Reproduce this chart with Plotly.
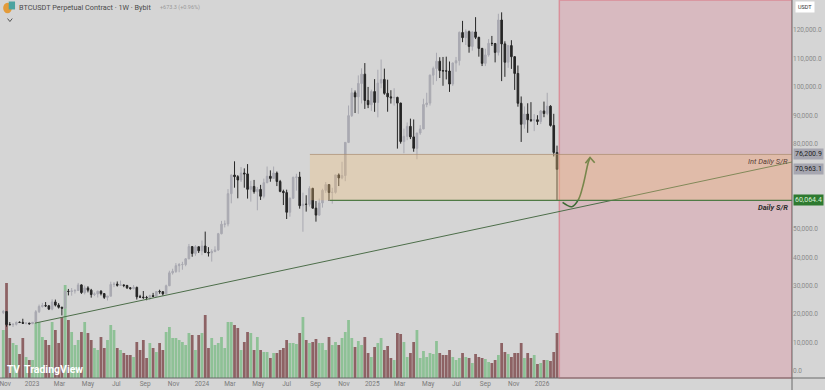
import plotly.graph_objects as go
import pandas as pd

# ---------------- data (weekly BTCUSDT, Bybit perpetual) ----------------
week_start = "2022-10-31"

open_ = [
    20627, 20905, 16330, 16280, 16430, 17110, 17100, 16780, 16840, 16620,
    17130, 20870, 22700, 23030, 22930, 21780, 24300, 23180, 22430, 22100,
    28000, 27990, 28170, 28330, 30300, 27590, 29230, 28440, 26920, 27110,
    28080, 27230, 25910, 26340, 30460, 30580, 30170, 30290, 30080, 29270,
    29040, 29420, 26090, 26000, 25870, 25830, 26530, 26250, 27970, 27920,
    27150, 29990, 34530, 35030, 37060, 37450, 37470, 39460, 43780, 41370,
    43720, 42280, 43970, 41730, 41580, 42030, 42590, 48300, 51660, 51730,
    62400, 68950, 68390, 67210, 69650, 69360, 63930, 64930, 63110, 63900,
    61480, 66270, 68530, 67770, 69650, 66680, 63210, 62770, 55850, 60800,
    68160, 68250, 58160, 58710, 58640, 64250, 57300, 54850, 59130, 63580,
    65600, 62820, 62860, 69000, 67940, 68770, 80440, 89850, 97900, 96450,
    101170, 104460, 95200, 93720, 98330, 94500, 101300, 102600, 97700, 96460,
    96120, 96270, 94270, 80730, 82570, 86080, 82380, 78350, 83750, 85170,
    93750, 94280, 104100, 106450, 109000, 105700, 105600, 105550, 100960, 108380,
    109200, 119100, 117300, 119400, 114200, 119300, 117400, 113500, 108250, 111200,
    115300, 115250, 112100, 123500, 115100, 108650, 114500, 110600, 104700, 94200,
    86800, 90400, 88400, 88200, 88400, 87800, 91500, 90600, 93200, 86400,
    76900,
]
high = [
    21480, 21050, 17190, 16810, 17420, 17430, 18390, 17070, 16960, 17180,
    21440, 23370, 23960, 24260, 23170, 25250, 25130, 23880, 22600, 28470,
    28870, 29190, 28800, 31000, 30480, 30040, 29820, 28900, 27650, 28250,
    28450, 27400, 26400, 31430, 31280, 31500, 31800, 30450, 30330, 29530,
    30240, 29680, 26800, 28140, 26440, 26880, 27480, 27300, 28600, 27980,
    30380, 35280, 35980, 37970, 37980, 38420, 39700, 44700, 43800, 44290,
    43820, 45900, 49050, 43580, 42850, 43880, 48590, 52820, 52980, 64000,
    69170, 73780, 68920, 71770, 71300, 72800, 66900, 67230, 64730, 65500,
    67700, 71950, 70600, 71950, 70200, 67250, 63800, 63800, 61050, 68350,
    69400, 70080, 62740, 61830, 65000, 64480, 59800, 60670, 64130, 66500,
    65620, 64480, 69000, 69520, 73620, 80500, 93430, 99590, 98700, 104000,
    106500, 108350, 99960, 99000, 102700, 106000, 109600, 106400, 102500, 98800,
    99500, 96500, 94400, 85300, 87450, 88800, 88500, 83600, 86500, 95800,
    97900, 104300, 107100, 111980, 110400, 110500, 110600, 108900, 108500, 110500,
    119500, 123200, 120200, 119800, 119500, 124500, 117600, 113700, 113400, 116800,
    117900, 115400, 125700, 126200, 116000, 114000, 116400, 110800, 107500, 96600,
    93100, 94200, 94600, 90400, 90000, 91800, 94800, 97900, 93500, 90500,
    79300,
]
low = [
    20030, 15590, 16240, 15480, 16000, 16870, 16530, 16400, 16330, 16610,
    17100, 20400, 22300, 22500, 21450, 21350, 22720, 21970, 19550, 21900,
    26600, 26510, 27260, 28170, 27130, 26940, 27670, 25810, 26360, 25870,
    26600, 25350, 24800, 26260, 29500, 29700, 29950, 29500, 28860, 28570,
    28700, 25160, 25800, 25330, 24900, 24930, 26010, 25990, 27160, 26530,
    27110, 29900, 33920, 34520, 34750, 35630, 36860, 39370, 40200, 40550,
    41520, 40750, 41500, 40280, 38500, 41800, 42260, 48100, 50520, 50900,
    59000, 64500, 60770, 66500, 64500, 60660, 59600, 62400, 56550, 60190,
    60750, 66050, 66600, 67600, 65070, 62900, 58400, 53480, 54300, 60630,
    63450, 57120, 49000, 56080, 57860, 57200, 52550, 54590, 57490, 62680,
    59830, 58900, 62440, 65080, 67470, 66800, 80200, 89380, 90770, 90500,
    94150, 92230, 92500, 91530, 91200, 89250, 99500, 97200, 91230, 94100,
    93380, 78250, 80000, 76600, 81200, 81600, 77150, 74500, 83100, 85100,
    92800, 93400, 100700, 102000, 103100, 100370, 102600, 98200, 100300, 105300,
    107500, 115700, 114700, 112000, 112700, 116800, 110600, 107300, 107300, 110600,
    114400, 108600, 111000, 102000, 103500, 106700, 106300, 98900, 93000, 80600,
    85300, 83800, 87600, 84400, 86600, 86900, 89300, 90000, 86000, 75500,
    60064.4,
]
close = [
    20905, 16330, 16280, 16430, 17110, 17100, 16780, 16840, 16620, 17130,
    20870, 22700, 23030, 22930, 21780, 24300, 23180, 22430, 22100, 28000,
    27990, 28170, 28330, 30300, 27590, 29230, 28440, 26920, 27110, 28080,
    27230, 25910, 26340, 30460, 30580, 30170, 30290, 30080, 29270, 29040,
    29420, 26090, 26000, 25870, 25830, 26530, 26250, 27970, 27920, 27150,
    29990, 34530, 35030, 37060, 37450, 37470, 39460, 43780, 41370, 43720,
    42280, 43970, 41730, 41580, 42030, 42590, 48300, 51660, 51730, 62400,
    68950, 68390, 67210, 69650, 69360, 63930, 64930, 63110, 63900, 61480,
    66270, 68530, 67770, 69650, 66680, 63210, 62770, 55850, 60800, 68160,
    68250, 58160, 58710, 58640, 64250, 57300, 54850, 59130, 63580, 65600,
    62820, 62860, 69000, 67940, 68770, 80440, 89850, 97900, 96450, 101170,
    104460, 95200, 93720, 98330, 94500, 101300, 102600, 97700, 96460, 96120,
    96270, 94270, 80730, 82570, 86080, 82380, 78350, 83750, 85170, 93750,
    94280, 104100, 106450, 109000, 105700, 105600, 105550, 100960, 108380, 109200,
    119100, 117300, 119400, 114200, 119300, 117400, 113500, 108250, 111200, 115300,
    115250, 112100, 123500, 115100, 108650, 114500, 110600, 104700, 94200, 86800,
    90400, 88400, 88200, 88400, 87800, 91500, 90600, 93200, 86400, 76900,
    70963.1,
]
volume = [
    48, 95, 40, 35, 33, 24, 40, 21, 18, 18,
    55, 56, 41, 38, 33, 56, 48, 35, 61, 93,
    58, 46, 33, 38, 46, 56, 45, 38, 30, 28,
    41, 30, 38, 53, 48, 30, 28, 25, 23, 23,
    21, 36, 28, 38, 20, 35, 30, 26, 35, 28,
    46, 51, 40, 40, 38, 36, 33, 45, 43, 28,
    43, 45, 63, 30, 40, 33, 35, 41, 30, 56,
    56, 53, 50, 28, 36, 46, 45, 28, 41, 28,
    26, 26, 20, 25, 25, 28, 30, 38, 35, 35,
    34, 45, 61, 38, 35, 36, 39, 35, 35, 28,
    41, 33, 36, 33, 40, 46, 58, 40, 31, 37,
    33, 41, 25, 21, 31, 35, 40, 28, 32, 20,
    18, 45, 44, 36, 21, 25, 36, 48, 20, 27,
    21, 25, 24, 37, 25, 23, 23, 28, 21, 18,
    20, 25, 21, 20, 15, 24, 21, 20, 19, 16,
    15, 18, 23, 35, 26, 24, 21, 25, 25, 35,
    20, 25, 20, 23, 14, 15, 18, 18, 17, 26,
    45,
]

# key levels / drawings (price coordinates)
int_sr_level = 76200.9
daily_sr_level = 60064.4
last_price = 70963.1
box_start = "2024-08-20"
daily_sr_start = "2024-10-02"
zone_start = "2026-02-07"
axis_end = "2027-06-22"
axis_start = "2022-10-24"

trend_dates = ["2023-01-07", axis_end]
trend_prices = [16850, 73540]

arrow_dates = ["2026-02-14", "2026-03-06", "2026-03-20", "2026-03-31", "2026-04-10", "2026-04-14"]
arrow_prices = [59300, 57800, 60300, 66000, 73300, 75000]
head_dates = ["2026-04-04", "2026-04-14", "2026-04-24"]
head_prices = [73100, 75100, 73300]

price_ticks = [0, 10000, 20000, 30000, 40000, 50000, 80000, 90000, 100000, 110000, 120000]
price_tick_text = ["0.0", "10,000.0", "20,000.0", "30,000.0", "40,000.0", "50,000.0",
                   "80,000.0", "90,000.0", "100,000.0", "110,000.0", "120,000.0"]

time_ticks = ["2022-11-04", "2023-01-01", "2023-03-01", "2023-05-01", "2023-07-01", "2023-09-01",
              "2023-11-01", "2024-01-01", "2024-03-01", "2024-05-01", "2024-07-01", "2024-09-01",
              "2024-11-01", "2025-01-01", "2025-03-01", "2025-05-01", "2025-07-01", "2025-09-01",
              "2025-11-01", "2026-01-01"]
time_tick_text = ["Nov", "2023", "Mar", "May", "Jul", "Sep", "Nov", "2024", "Mar", "May", "Jul", "Sep",
                  "Nov", "2025", "Mar", "May", "Jul", "Sep", "Nov", "2026"]

dates = pd.date_range(week_start, periods=len(close), freq="7D")

# ---------------- styling ----------------
BG = "#d5d5d5"
UP = "#a9a9b1"
DOWN = "#262626"
VOL_UP = "#8ec196"
VOL_DOWN = "#8d6264"
FONT = "Roboto"

vol_colors = [VOL_UP if c >= o else VOL_DOWN for o, c in zip(open_, close)]

fig = go.Figure()

fig.add_trace(go.Bar(
    x=dates, y=volume, marker=dict(color=vol_colors, line=dict(width=0)),
    yaxis="y", hoverinfo="skip", showlegend=False,
))

fig.add_trace(go.Candlestick(
    x=dates, open=open_, high=high, low=low, close=close, yaxis="y2",
    increasing=dict(line=dict(color=UP, width=1), fillcolor=UP),
    decreasing=dict(line=dict(color=DOWN, width=1), fillcolor=DOWN),
    whiskerwidth=0, hoverinfo="skip", showlegend=False,
))

fig.add_trace(go.Scatter(
    x=trend_dates, y=trend_prices, yaxis="y2", mode="lines",
    line=dict(color="#4d6e4a", width=1), hoverinfo="skip", showlegend=False,
))

fig.add_trace(go.Scatter(
    x=arrow_dates, y=arrow_prices, yaxis="y2", mode="lines",
    line=dict(color="#3d6a35", width=1.6, shape="spline"), hoverinfo="skip", showlegend=False,
))
fig.add_trace(go.Scatter(
    x=head_dates, y=head_prices, yaxis="y2", mode="lines",
    line=dict(color="#3d6a35", width=1.6), hoverinfo="skip", showlegend=False,
))

shapes = [
    # future / red zone
    dict(type="rect", xref="x", yref="paper", x0=zone_start, x1=axis_end, y0=0, y1=1,
         fillcolor="rgba(226,120,140,0.28)", line=dict(color="rgba(220,110,125,0.6)", width=1.5),
         layer="below"),
    # support / resistance box
    dict(type="rect", xref="x", yref="y2", x0=box_start, x1=axis_end,
         y0=daily_sr_level, y1=int_sr_level,
         fillcolor="rgba(240,190,120,0.33)", line=dict(width=0), layer="above"),
    dict(type="line", xref="x", yref="y2", x0=box_start, x1=axis_end,
         y0=int_sr_level, y1=int_sr_level, line=dict(color="rgba(170,140,110,0.7)", width=1),
         layer="above"),
    dict(type="line", xref="x", yref="y2", x0=daily_sr_start, x1=axis_end,
         y0=daily_sr_level, y1=daily_sr_level, line=dict(color="#4f7a45", width=1.2),
         layer="above"),
    # pane borders
    dict(type="line", xref="paper", yref="paper", x0=0, x1=1.05, y0=0, y1=0,
         line=dict(color="#6a6a6a", width=1)),
    dict(type="line", xref="paper", yref="paper", x0=1, x1=1, y0=-0.04, y1=1,
         line=dict(color="#6a6a6a", width=1)),
    # symbol icon
    dict(type="circle", xref="paper", yref="paper", x0=0.004, x1=0.015, y0=0.965, y1=0.993,
         fillcolor="#e39b3a", line=dict(width=0)),
    dict(type="rect", xref="paper", yref="paper", x0=0.011, x1=0.019, y0=0.975, y1=0.996,
         fillcolor="#4aa3a0", line=dict(width=0)),
    # small chevron under header
    dict(type="path", xref="paper", yref="paper",
         path="M 0.0095 0.951 L 0.0125 0.943 L 0.0155 0.951",
         line=dict(color="#555", width=1)),
]

annotations = [
    dict(xref="paper", yref="paper", x=0.021, y=0.981, xanchor="left", yanchor="middle",
         text="BTCUSDT Perpetual Contract · 1W · Bybit", showarrow=False,
         font=dict(family=FONT, size=7.3, color="#4a4a4a")),
    dict(xref="paper", yref="paper", x=0.2, y=0.981, xanchor="left", yanchor="middle",
         text="+673.3 (+0.96%)", showarrow=False,
         font=dict(family=FONT, size=5.5, color="#9a9a9a")),
    dict(xref="paper", yref="paper", x=0.006, y=0.022, xanchor="left", yanchor="middle",
         text="<b>TV</b>", showarrow=False, font=dict(family=FONT, size=10, color="#ffffff")),
    dict(xref="paper", yref="paper", x=0.028, y=0.022, xanchor="left", yanchor="middle",
         text="<b>TradingView</b>", showarrow=False, font=dict(family=FONT, size=10.5, color="#ffffff")),
    dict(xref="paper", yref="y2", x=0.997, y=73800, xanchor="right", yanchor="middle",
         text="<i>Int Daily S/R</i>", showarrow=False,
         font=dict(family=FONT, size=7.5, color="#5b3f38")),
    dict(xref="paper", yref="y2", x=0.997, y=57600, xanchor="right", yanchor="middle",
         text="<i><b>Daily S/R</b></i>", showarrow=False,
         font=dict(family=FONT, size=7.5, color="#2e2e2e")),
    # price axis labels
    dict(xref="paper", yref="paper", x=1.004, y=0.997, xanchor="left", yanchor="top",
         text="USDT", showarrow=False, bgcolor="#ffffff", borderpad=2,
         font=dict(family=FONT, size=5.5, color="#333")),
    dict(xref="paper", yref="y2", x=1.001, y=int_sr_level, xanchor="left", yanchor="middle",
         text="76,200.9", showarrow=False, bgcolor="#a6a6b0", borderpad=1,
         font=dict(family=FONT, size=7, color="#222")),
    dict(xref="paper", yref="y2", x=1.001, y=last_price, xanchor="left", yanchor="middle",
         text="70,963.1", showarrow=False, bgcolor="#a6a6b0", borderpad=1,
         font=dict(family=FONT, size=7, color="#222")),
    dict(xref="paper", yref="y2", x=1.001, y=daily_sr_level, xanchor="left", yanchor="middle",
         text="60,064.4", showarrow=False, bgcolor="#2e7a30", borderpad=1,
         font=dict(family=FONT, size=7, color="#d8f0d8")),
]

fig.update_layout(
    width=825, height=390,
    margin=dict(l=0, r=33, t=0, b=12),
    paper_bgcolor=BG, plot_bgcolor=BG,
    showlegend=False, hovermode=False,
    bargap=0.15,
    shapes=shapes, annotations=annotations,
    xaxis=dict(type="date", range=[axis_start, axis_end], rangeslider=dict(visible=False),
               showgrid=False, zeroline=False, showline=False, ticks="",
               tickvals=time_ticks, ticktext=time_tick_text, ticklabeloverflow="allow",
               tickfont=dict(family=FONT, size=6.5, color="#7a7a7a")),
    yaxis=dict(range=[0, 378], visible=False, showgrid=False, zeroline=False, fixedrange=True),
    yaxis2=dict(overlaying="y", side="right", range=[-2463, 130542],
                showgrid=False, zeroline=False, showline=False, ticks="",
                tickvals=price_ticks, ticktext=price_tick_text,
                tickfont=dict(family=FONT, size=6.5, color="#8a8a8a")),
)

fig.write_html("out.html")
